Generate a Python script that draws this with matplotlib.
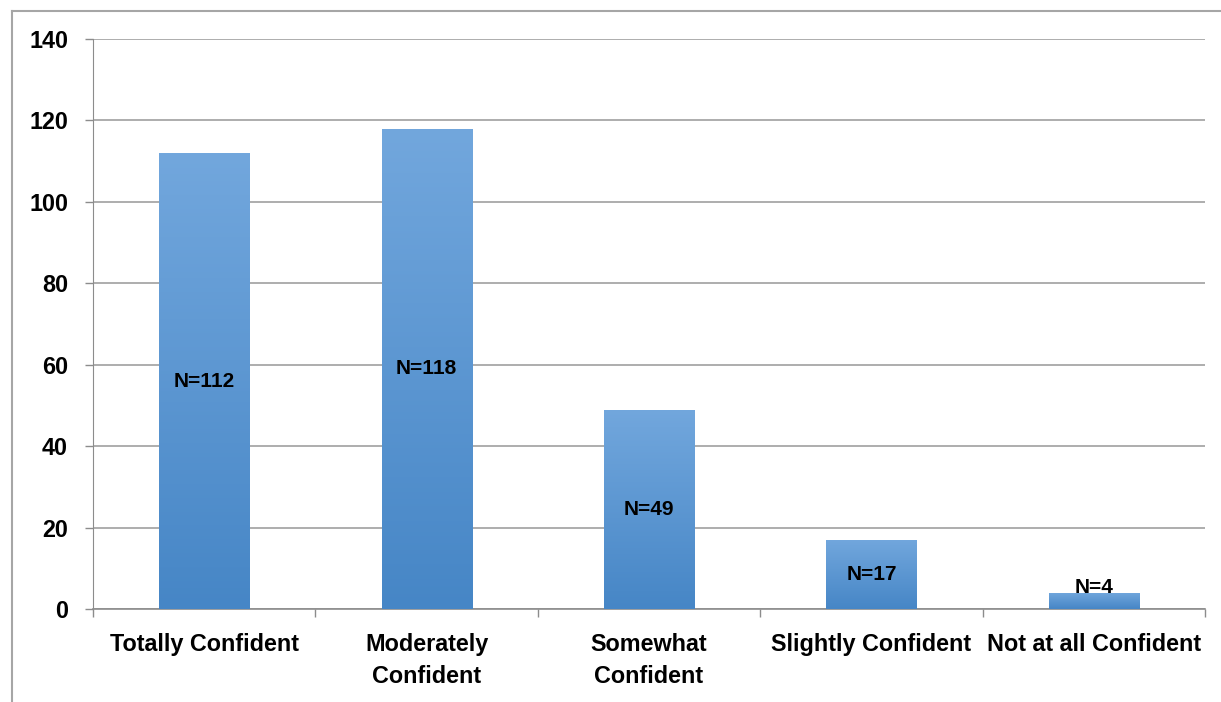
import numpy as np
import matplotlib.pyplot as plt
from matplotlib.colors import LinearSegmentedColormap
from matplotlib.lines import Line2D

categories = ["Totally Confident", "Moderately\nConfident", "Somewhat\nConfident",
              "Slightly Confident", "Not at all Confident"]
counts = [112, 118, 49, 17, 4]
labels = ["N=112", "N=118", "N=49", "N=17", "N=4"]

plt.rcParams['font.family'] = ['Liberation Sans', 'DejaVu Sans']
plt.rcParams['font.weight'] = 'bold'

fig = plt.figure(figsize=(12.21, 7.02), dpi=100)
ax = fig.add_axes([0.0762, 0.1325, 0.9107, 0.8119])

# outer chart border: left and top edges only are inside the image
bx, by = 11.5 / 1221, 1 - 10.5 / 702
fig.add_artist(Line2D([bx, bx], [0, by], transform=fig.transFigure,
                      color='#a6a6a6', linewidth=1.5))
fig.add_artist(Line2D([bx, 1], [by, by], transform=fig.transFigure,
                      color='#a6a6a6', linewidth=1.5))

x = np.arange(len(categories))
bars = ax.bar(x, counts, width=0.405, color='none', edgecolor='none', zorder=3)

# vertical gradient inside each bar, lighter on top
cmap = LinearSegmentedColormap.from_list('bar', ['#4686c6', '#72a7dd'])
grad = np.linspace(0, 1, 256).reshape(-1, 1)
for b in bars:
    x0, w, h = b.get_x(), b.get_width(), b.get_height()
    im = ax.imshow(grad, cmap=cmap, origin='lower', aspect='auto',
                   extent=(x0, x0 + w, 0, h), zorder=3)
    im.set_clip_path(b)

for xi, v, lab in zip(x, counts, labels):
    ax.text(xi, max(v / 2, 5.3), lab, ha='center', va='center',
            fontsize=15, fontweight='bold', color='black', zorder=4)

ax.set_xlim(-0.5, len(categories) - 0.5)
ax.set_ylim(0, 140)
ax.set_yticks(range(0, 141, 20))
ax.set_xticks(x)
ax.set_xticklabels(categories, fontsize=16.8, fontweight='bold', linespacing=1.5)
ax.set_xticks(np.arange(-0.5, len(categories)), minor=True)
ax.tick_params(axis='x', which='major', length=0, pad=17)
ax.tick_params(axis='x', which='minor', length=6, color='#8c8c8c', width=1)
ax.tick_params(axis='y', length=6, color='#8c8c8c', width=1, labelsize=16.8, pad=12)
for t in ax.get_yticklabels():
    t.set_fontweight('bold')

ax.grid(axis='y', color='#a0a0a0', linewidth=1.2, zorder=0)
ax.set_axisbelow(True)
for s in ['top', 'right']:
    ax.spines[s].set_visible(False)
ax.spines['left'].set_color('#8c8c8c')
ax.spines['bottom'].set_color('#8c8c8c')
ax.spines['bottom'].set_linewidth(1.2)

fig.savefig('out.png', dpi=100)
